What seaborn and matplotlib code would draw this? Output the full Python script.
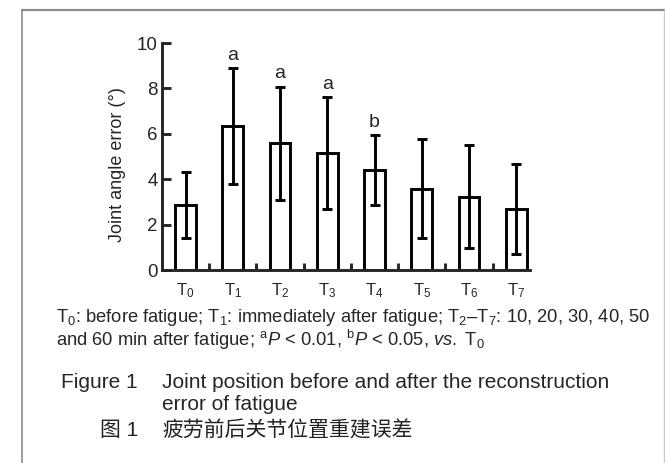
import numpy as np
import pandas as pd
import seaborn as sns
import matplotlib.pyplot as plt
from matplotlib.lines import Line2D

# datos
tiempos = ['T0', 'T1', 'T2', 'T3', 'T4', 'T5', 'T6', 'T7']
etiquetas = [r'$\mathrm{T_%d}$' % i for i in range(8)]
medias = [2.88, 6.35, 5.58, 5.14, 4.40, 3.58, 3.22, 2.68]
sd = [1.45, 2.54, 2.50, 2.46, 1.54, 2.19, 2.27, 1.98]
signif = ['', 'a', 'a', 'a', 'b', '', '', '']

sns.set_style('ticks')
plt.rcParams['font.family'] = ['Liberation Sans', 'Noto Sans CJK SC', 'DejaVu Sans']
plt.rcParams['mathtext.fontset'] = 'custom'
plt.rcParams['mathtext.rm'] = 'Liberation Sans'
plt.rcParams['mathtext.it'] = 'Liberation Sans:italic'

df = pd.DataFrame({'tiempo': tiempos, 'media': medias, 'sd': sd})

fig = plt.figure(figsize=(6.65, 4.63), dpi=100)
ax = fig.add_axes([0.2436, 0.4168, 0.5534, 0.4903])

lw = 2.1
sns.barplot(data=df, x='tiempo', y='media', ax=ax, color='white',
            saturation=1, edgecolor='black', linewidth=lw, width=0.44,
            errorbar=None)
ax.errorbar(np.arange(len(medias)), medias, yerr=sd, fmt='none',
            ecolor='black', elinewidth=lw, capsize=3.6, capthick=lw, zorder=3)

for i, s in enumerate(signif):
    if s:
        ax.annotate(s, (i, medias[i] + sd[i]), xytext=(0, 3),
                    textcoords='offset points', ha='center', va='bottom',
                    fontsize=14)

ax.set_xlim(-0.5, 7.29)
ax.set_ylim(0, 10)
ax.set_yticks([0, 2, 4, 6, 8, 10])
ax.set_xticks(range(8))
ax.set_xticklabels(etiquetas)
ax.set_xticks(np.arange(0.5, 7, 1), minor=True)
ax.tick_params(axis='x', which='major', length=0, labelsize=12, pad=8)
ax.tick_params(axis='x', which='minor', direction='in', length=5, width=lw)
ax.tick_params(axis='y', direction='in', length=6.5, width=lw,
               labelsize=13.5, pad=3)
ax.set_xlabel('')
ax.set_ylabel('Joint angle error (°)', fontsize=13)
ax.yaxis.set_label_coords(-0.098, 0.463)
sns.despine(ax=ax)
for sp in ['left', 'bottom']:
    ax.spines[sp].set_linewidth(lw)

# nota al pie
fig.text(56 / 665, 1 - 317 / 463,
         r'$\mathrm{T_0}$: before fatigue; $\mathrm{T_1}$: immediately after fatigue; '
         r'$\mathrm{T_2}$–$\mathrm{T_7}$: 10, 20, 30, 40, 50',
         fontsize=13.2, va='center')
fig.text(56 / 665, 1 - 340 / 463,
         r'and 60 min after fatigue; $^{\mathrm{a}}\mathit{P}$ < 0.01, '
         r'$^{\mathrm{b}}\mathit{P}$ < 0.05, $\mathit{vs.}\ \mathrm{T_0}$',
         fontsize=13.2, va='center')

# pie de figura
fig.text(138 / 665, 1 - 382 / 463, 'Figure 1', fontsize=15, va='center', ha='right')
fig.text(162 / 665, 1 - 382 / 463,
         'Joint position before and after the reconstruction',
         fontsize=15, va='center')
fig.text(162 / 665, 1 - 405 / 463, 'error of fatigue', fontsize=15, va='center')
fig.text(138 / 665, 1 - 430 / 463, '图 1', fontsize=15, va='center', ha='right',
         color='#222222')
fig.text(162 / 665, 1 - 430 / 463, '疲劳前后关节位置重建误差', fontsize=15,
         va='center', color='#222222',
         family=['Noto Sans CJK SC', 'DejaVu Sans'])

# marco
fig.add_artist(Line2D([22 / 665, 664 / 665], [1 - 10 / 463] * 2,
                      color='#8c8c8c', lw=1.6, transform=fig.transFigure))
fig.add_artist(Line2D([22 / 665] * 2, [0, 1 - 10 / 463],
                      color='#8c8c8c', lw=1.2, transform=fig.transFigure))
fig.add_artist(Line2D([664 / 665] * 2, [0, 1 - 10 / 463],
                      color='#c8c8c8', lw=1.0, transform=fig.transFigure))

fig.savefig('out.png', dpi=100)
